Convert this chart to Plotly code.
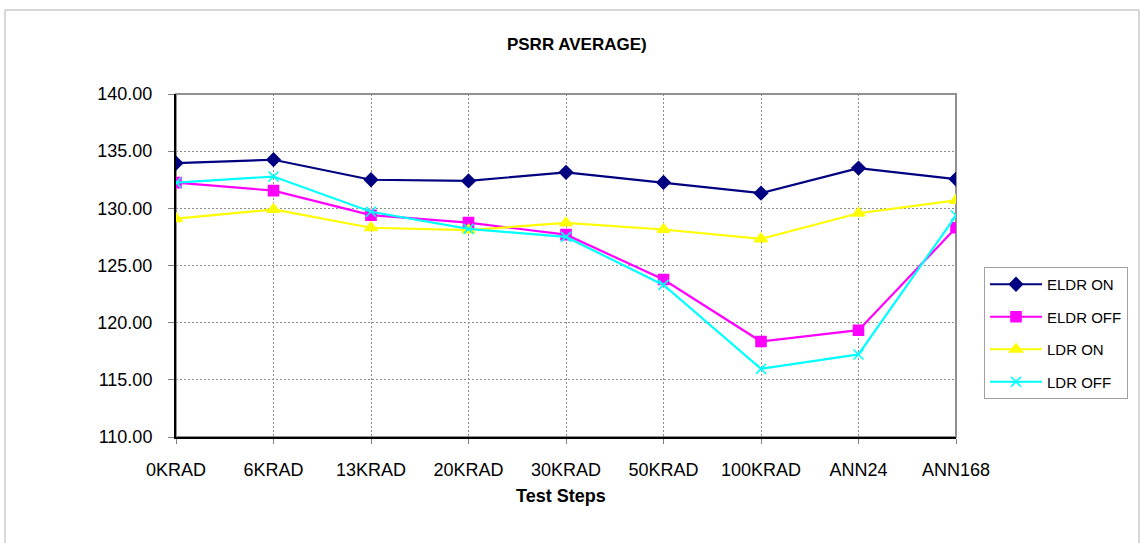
import plotly.graph_objects as go

categories = ["0KRAD", "6KRAD", "13KRAD", "20KRAD", "30KRAD", "50KRAD", "100KRAD", "ANN24", "ANN168"]
eldr_on = [133.95, 134.25, 132.5, 132.4, 133.15, 132.27, 131.33, 133.52, 132.56]
eldr_off = [132.25, 131.55, 129.4, 128.75, 127.7, 123.78, 118.35, 119.34, 128.3]
ldr_on = [129.1, 129.9, 128.3, 128.1, 128.72, 128.15, 127.33, 129.57, 130.7]
ldr_off = [132.25, 132.78, 129.7, 128.2, 127.5, 123.3, 115.96, 117.22, 129.37]

series = [
    ("ELDR ON", eldr_on, "#000080", "diamond", 10),
    ("ELDR OFF", eldr_off, "#FF00FF", "square", 10),
    ("LDR ON", ldr_on, "#FFFF00", "triangle-up", 11),
    ("LDR OFF", ldr_off, "#00FFFF", "x-thin-open", 10),
]

FONT = "Liberation Sans, Arial, sans-serif"

fig = go.Figure()
for i, (name, vals, color, sym, size) in enumerate(series):
    fig.add_trace(go.Scatter(
        x=list(range(len(categories))), y=vals, name=name, mode="lines+markers",
        line=dict(color=color, width=2.2),
        marker=dict(symbol=sym, size=size, color=color, line=dict(color=color, width=1.6)),
        legendgroup=f"g{i}",
    ))

fig.update_layout(
    width=1140, height=543,
    margin=dict(l=176, r=184, t=94, b=106),
    paper_bgcolor="white", plot_bgcolor="white",
    font=dict(family=FONT, size=18, color="black"),
    title=dict(text="<b>PSRR AVERAGE)</b>", x=0.506, xanchor="center", y=1 - 44 / 543,
               yanchor="middle", yref="container", font=dict(size=17, family=FONT)),
    showlegend=True,
    legend=dict(x=(984 - 176) / 780, y=(437 - 267) / 343, xanchor="left", yanchor="top",
                bordercolor="#A0A0A0", borderwidth=1, bgcolor="white",
                font=dict(size=15, family=FONT), traceorder="grouped", tracegroupgap=10,
                itemwidth=52),
    xaxis=dict(
        range=[0, len(categories) - 1], tickmode="array",
        tickvals=list(range(len(categories))), ticktext=categories,
        showline=True, linecolor="black", linewidth=2,
        showgrid=True, gridcolor="#8C8C8C", griddash="2px,2px", gridwidth=1,
        ticks="outside", ticklen=5, tickcolor="#808080",
        ticklabelstandoff=10, zeroline=False,
    ),
    yaxis=dict(
        range=[110, 140], tickmode="array", tickvals=[110, 115, 120, 125, 130, 135, 140],
        ticktext=["110.00", "115.00", "120.00", "125.00", "130.00", "135.00", "140.00"],
        showline=True, linecolor="black", linewidth=2,
        showgrid=True, gridcolor="#8C8C8C", griddash="2px,2px", gridwidth=1,
        ticks="outside", ticklen=6, tickcolor="#808080",
        ticklabelstandoff=12, zeroline=False,
    ),
    annotations=[dict(text="<b>Test Steps</b>", x=(561 - 176) / 780, y=(437 - 496) / 343,
                      xref="paper", yref="paper", showarrow=False, xanchor="center",
                      yanchor="middle", font=dict(size=18, family=FONT))],
    shapes=[
        dict(type="rect", xref="paper", yref="paper", x0=0, x1=1, y0=0, y1=1,
             line=dict(color="#909090", width=2), layer="below"),
        dict(type="rect", xref="paper", yref="paper",
             x0=(5 - 176) / 780, x1=(1139 - 176) / 780,
             y0=(437 - 560) / 343, y1=(437 - 10) / 343,
             line=dict(color="#B0B0B0", width=1), layer="below"),
    ],
)

fig.write_html("out.html", config={"displayModeBar": False},
               post_script="document.body.style.margin='0';document.body.style.overflow='hidden';")
